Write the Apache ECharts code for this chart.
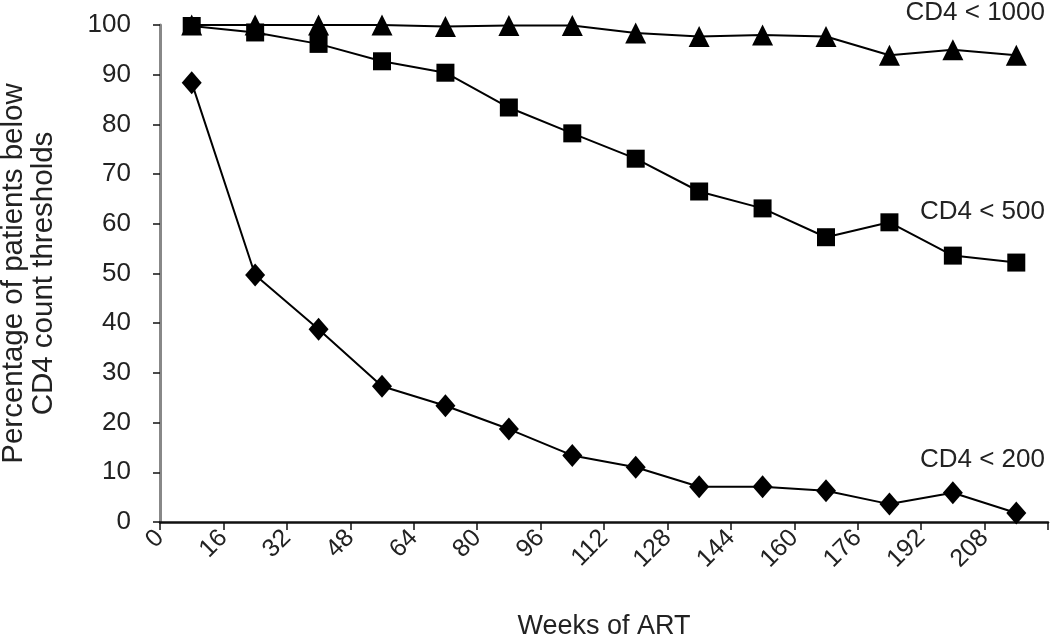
<!DOCTYPE html>
<html>
<head>
<meta charset="utf-8">
<script src="https://cdn.jsdelivr.net/npm/echarts@6/dist/echarts.min.js"></script>
<style>
html,body{margin:0;padding:0;background:#fff;}
#chart{width:1050px;height:638px;}
</style>
</head>
<body>
<div id="chart"></div>
<script>
// Weeks at which measurements plotted (mid-interval)
const weeks = [8, 24, 40, 56, 72, 88, 104, 120, 136, 152, 168, 184, 200, 216];
const xTickLabels = [0, 16, 32, 48, 64, 80, 96, 112, 128, 144, 160, 176, 192, 208];
const cd4Below1000 = [100, 100, 100, 100, 99.7, 99.9, 99.9, 98.4, 97.7, 98.0, 97.7, 93.9, 95.0, 93.9];
const cd4Below500 = [99.8, 98.5, 96.2, 92.7, 90.4, 83.4, 78.2, 73.1, 66.5, 63.1, 57.3, 60.3, 53.6, 52.2];
const cd4Below200 = [88.4, 49.7, 38.8, 27.3, 23.4, 18.7, 13.4, 11.0, 7.1, 7.1, 6.3, 3.6, 5.9, 1.8];
const seriesNames = ['CD4 < 1000', 'CD4 < 500', 'CD4 < 200'];

const pairs = v => weeks.map((w, i) => [w, v[i]]);
const font = 'Liberation Sans, Arial, sans-serif';
const chart = echarts.init(document.getElementById('chart'));
const lineStyle = { color: '#000', width: 2 };
chart.setOption({
  animation: false,
  backgroundColor: '#fff',
  grid: { left: 160, right: 2, top: 25, bottom: 116, containLabel: false, outerBoundsMode: 'none' },
  xAxis: {
    type: 'value', min: 0, max: 224, interval: 16,
    axisLine: { lineStyle: { color: '#111', width: 2.5 } },
    axisTick: { show: true, length: 8, lineStyle: { color: '#111', width: 1.5 } },
    splitLine: { show: false },
    axisLabel: {
      rotate: 45, fontSize: 25, color: '#222', fontFamily: font, margin: 12,
      formatter: v => (xTickLabels.indexOf(v) >= 0 ? String(v) : '')
    },
    name: 'Weeks of ART', nameLocation: 'middle', nameGap: 91,
    nameTextStyle: { fontSize: 27, color: '#222', fontFamily: font }
  },
  yAxis: {
    type: 'value', min: 0, max: 100, interval: 10,
    axisLine: { show: true, lineStyle: { color: '#888', width: 3 } },
    axisTick: { show: true, length: 7, lineStyle: { color: '#111', width: 1.5 } },
    splitLine: { show: false },
    axisLabel: { fontSize: 26, color: '#222', fontFamily: font, margin: 29 },
    name: 'Percentage of patients below\nCD4 count thresholds',
    nameLocation: 'middle', nameGap: 101, nameRotate: 90,
    nameTextStyle: { fontSize: 29.5, color: '#222', fontFamily: font, lineHeight: 30 }
  },
  series: [
    { name: seriesNames[0], type: 'line', data: pairs(cd4Below1000), symbol: 'triangle', symbolSize: [21, 21],
      itemStyle: { color: '#000' }, lineStyle: lineStyle, z: 3 },
    { name: seriesNames[1], type: 'line', data: pairs(cd4Below500), symbol: 'rect', symbolSize: 18,
      itemStyle: { color: '#000' }, lineStyle: lineStyle, z: 4 },
    { name: seriesNames[2], type: 'line', data: pairs(cd4Below200), symbol: 'diamond', symbolSize: [20, 23],
      itemStyle: { color: '#000' }, lineStyle: lineStyle, z: 5 }
  ],
  graphic: [
    { type: 'text', right: 5, top: 0, style: { text: seriesNames[0], fontSize: 26, fill: '#222', fontFamily: font } },
    { type: 'text', right: 5, top: 199, style: { text: seriesNames[1], fontSize: 26, fill: '#222', fontFamily: font } },
    { type: 'text', right: 5, top: 447, style: { text: seriesNames[2], fontSize: 26, fill: '#222', fontFamily: font } }
  ]
});
</script>
</body>
</html>
